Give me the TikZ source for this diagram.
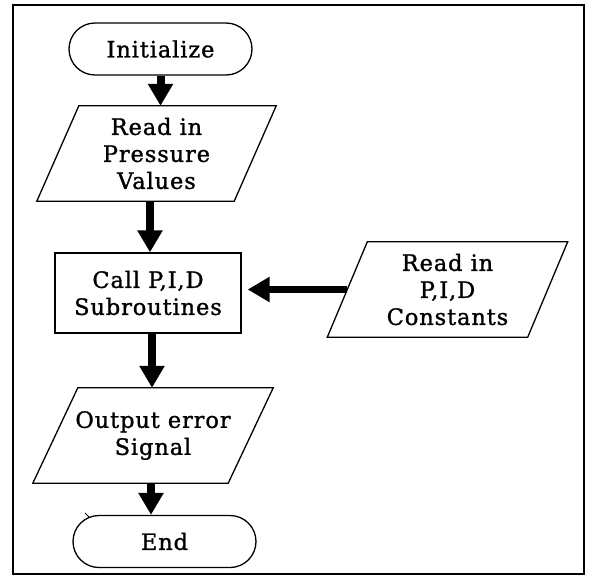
\documentclass[tikz,border=0pt]{standalone}
\usepackage{fontspec}
\setmainfont{DejaVu Serif}[LetterSpace=4,FakeBold=1.2]
\usetikzlibrary{arrows.meta,shapes.misc}
\begin{document}
\begin{tikzpicture}[x=1pt,y=-1pt,
  txt/.style={font=\fontsize{22.5}{27}\selectfont, align=center, inner sep=0pt},
  term/.style={txt, draw, line width=1.3pt, rounded rectangle, minimum width=183pt, minimum height=52pt},
  procbox/.style={txt, draw, line width=1.3pt, rectangle, minimum width=186pt, minimum height=80pt},
  iobox/.style={txt, minimum height=95pt},
  para/.style={line width=1.3pt},
  flow/.style={line width=8pt, -{Triangle[width=24pt,length=22pt]}}
]
\useasboundingbox (0,0) rectangle (589,584);
\draw[line width=2.5pt] (13,5) rectangle (584,574);

\node[term] (init) at (160.5,49) {Initialize};
\node[iobox, minimum width=197pt] (p1) at (156.5,153.5) {Read in\\Pressure\\Values};
\draw[para] ([xshift=21pt]p1.north west) -- ([xshift=21pt]p1.north east) -- ([xshift=-21pt]p1.south east) -- ([xshift=-21pt]p1.south west) -- cycle;
\node[procbox] (call) at (148,293) {Call P,I,D\\Subroutines};
\node[iobox, minimum width=200pt] (pc) at (447.5,289.5) {Read in\\P,I,D\\Constants};
\draw[para] ([xshift=20pt]pc.north west) -- ([xshift=20pt]pc.north east) -- ([xshift=-20pt]pc.south east) -- ([xshift=-20pt]pc.south west) -- cycle;
\node[iobox, minimum width=195pt] (out) at (153,435.5) {Output error\\Signal};
\draw[para] ([xshift=22.5pt]out.north west) -- ([xshift=22.5pt]out.north east) -- ([xshift=-22.5pt]out.south east) -- ([xshift=-22.5pt]out.south west) -- cycle;
\node[term] (end) at (164.5,541.5) {End};

\draw[flow] (init.south) -- (init.south |- p1.north);
\draw[flow] ([xshift=2pt]call.north |- p1.south) -- ([xshift=2pt]call.north);
\draw[flow] ([xshift=4pt]call.south) -- ([xshift=4pt]call.south |- out.north);
\draw[flow] ([xshift=-2pt]out.south) -- ([xshift=-2pt]out.south |- end.north);
\draw[flow, line width=7pt] (pc.west) -- ([xshift=6pt]call.east |- pc.west);
\draw[line width=1pt] (85,513) -- (89,517);
\end{tikzpicture}
\end{document}
